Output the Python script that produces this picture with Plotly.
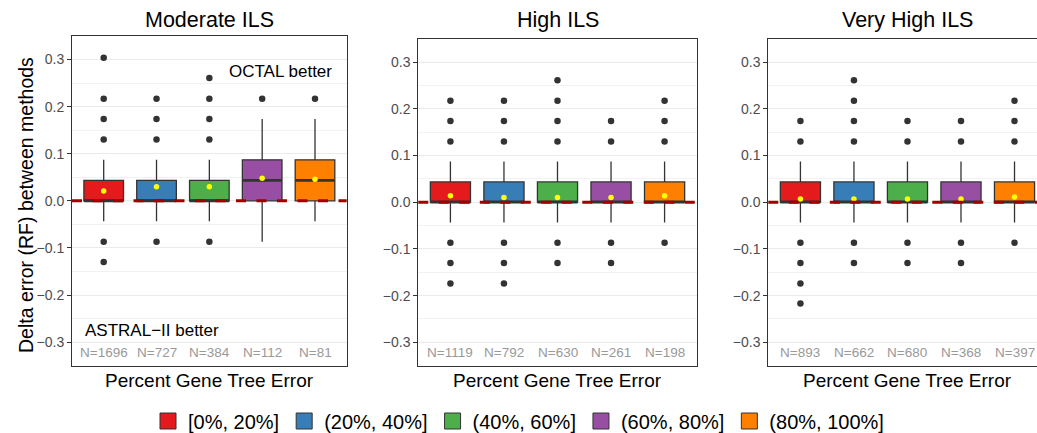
import plotly.graph_objects as go

# ---------------- data ----------------
categories = ["[0%, 20%]", "(20%, 40%]", "(40%, 60%]", "(60%, 80%]", "(80%, 100%]"]
colors = ["#E41A1C", "#377EB8", "#4DAF4A", "#984EA3", "#FF7F00"]
panels = ["Moderate ILS", "High ILS", "Very High ILS"]

# Moderate ILS
mod_q1 = [0.0, 0.0, 0.0, 0.0, 0.0]
mod_median = [0.0, 0.0, 0.0, 0.0435, 0.0435]
mod_q3 = [0.0435, 0.0435, 0.0435, 0.087, 0.087]
mod_lower = [-0.0435, -0.0435, -0.0435, -0.087, -0.0435]
mod_upper = [0.087, 0.087, 0.087, 0.174, 0.174]
mod_mean = [0.021, 0.030, 0.030, 0.048, 0.046]
mod_outliers = [
    [0.304, 0.217, 0.174, 0.130, -0.087, -0.130],
    [0.217, 0.174, 0.130, -0.087],
    [0.261, 0.217, 0.174, 0.130, -0.087],
    [0.217],
    [0.217],
]
mod_n = [1696, 727, 384, 112, 81]

# High ILS
high_q1 = [0.0, 0.0, 0.0, 0.0, 0.0]
high_median = [0.0, 0.0, 0.0, 0.0, 0.0]
high_q3 = [0.0435, 0.0435, 0.0435, 0.0435, 0.0435]
high_lower = [-0.0435, -0.0435, -0.0435, -0.0435, -0.0435]
high_upper = [0.087, 0.087, 0.087, 0.087, 0.087]
high_mean = [0.014, 0.010, 0.010, 0.010, 0.014]
high_outliers = [
    [0.217, 0.174, 0.130, -0.087, -0.130, -0.174],
    [0.217, 0.174, 0.130, -0.087, -0.130, -0.174],
    [0.261, 0.217, 0.174, 0.130, -0.087, -0.130],
    [0.174, 0.130, -0.087, -0.130],
    [0.217, 0.174, 0.130, -0.087],
]
high_n = [1119, 792, 630, 261, 198]

# Very High ILS
vhigh_q1 = [0.0, 0.0, 0.0, 0.0, 0.0]
vhigh_median = [0.0, 0.0, 0.0, 0.0, 0.0]
vhigh_q3 = [0.0435, 0.0435, 0.0435, 0.0435, 0.0435]
vhigh_lower = [-0.0435, -0.0435, -0.0435, -0.0435, -0.0435]
vhigh_upper = [0.087, 0.087, 0.087, 0.087, 0.087]
vhigh_mean = [0.007, 0.007, 0.007, 0.007, 0.011]
vhigh_outliers = [
    [0.174, 0.130, -0.087, -0.130, -0.174, -0.217],
    [0.261, 0.217, 0.174, 0.130, -0.087, -0.130],
    [0.174, 0.130, -0.087, -0.130],
    [0.174, 0.130, -0.087, -0.130],
    [0.217, 0.174, 0.130, -0.087],
]
vhigh_n = [893, 662, 680, 368, 397]

y_ticks = [-0.3, -0.2, -0.1, 0.0, 0.1, 0.2, 0.3]
y_ticklabels = ["\u22120.3", "\u22120.2", "\u22120.1", "0.0", "0.1", "0.2", "0.3"]

panel_data = [
    (mod_q1, mod_median, mod_q3, mod_lower, mod_upper, mod_mean, mod_outliers, mod_n),
    (high_q1, high_median, high_q3, high_lower, high_upper, high_mean, high_outliers, high_n),
    (vhigh_q1, vhigh_median, vhigh_q3, vhigh_lower, vhigh_upper, vhigh_mean, vhigh_outliers, vhigh_n),
]

# ---------------- layout geometry (pixels) ----------------
W, H = 1037, 433
FONT = "Liberation Sans, Arial, sans-serif"
px_x = [(72, 346.7), (418.3, 696.7), (768.3, 1037)]
px_y = [(36, 365.7), (38.7, 365.7), (38.7, 365.7)]
x_ranges = [[0.4, 5.6], [0.4, 5.6], [0.4, 5.42]]
title_cx = [209.3, 557.5, 907.4]
BOXW = 0.75

fig = go.Figure()
layout = dict(
    width=W, height=H,
    margin=dict(l=0, r=0, t=0, b=0, autoexpand=False),
    paper_bgcolor="white", plot_bgcolor="white",
    font=dict(family=FONT, color="#000000"),
    showlegend=True,
    legend=dict(orientation="h", x=0.5, xanchor="center", y=1 - 421 / H, yanchor="middle",
                xref="container", yref="container",
                font=dict(size=20, family=FONT, color="#000000"), itemclick=False,
                tracegroupgap=0, bgcolor="rgba(0,0,0,0)"),
    annotations=[], shapes=[],
)

for p, (q1, med, q3, lo, up, mn, outl, nn) in enumerate(panel_data):
    sfx = "" if p == 0 else str(p + 1)
    xa, ya = "x" + sfx, "y" + sfx
    xs = list(range(1, len(categories) + 1))
    for i, cat in enumerate(categories):
        fig.add_trace(go.Box(
            x=[xs[i]], q1=[q1[i]], median=[med[i]], q3=[q3[i]],
            lowerfence=[lo[i]], upperfence=[up[i]],
            width=BOXW, whiskerwidth=0, boxpoints=False,
            fillcolor=colors[i], line=dict(color="#333333", width=1.3),
            name=cat, legendgroup=cat, showlegend=False,
            xaxis=xa, yaxis=ya, hoverinfo="skip"))
    # thicker median lines
    mx, my = [], []
    for i in range(len(categories)):
        mx += [xs[i] - BOXW / 2, xs[i] + BOXW / 2, None]
        my += [med[i], med[i], None]
    fig.add_trace(go.Scatter(x=mx, y=my, mode="lines", line=dict(color="#333333", width=2.6),
                             showlegend=False, xaxis=xa, yaxis=ya, hoverinfo="skip"))
    # outliers
    ox, oy = [], []
    for i in range(len(categories)):
        for v in outl[i]:
            ox.append(xs[i]); oy.append(v)
    fig.add_trace(go.Scatter(x=ox, y=oy, mode="markers",
                             marker=dict(color="#333333", size=6.5),
                             showlegend=False, xaxis=xa, yaxis=ya, hoverinfo="skip"))
    # means
    fig.add_trace(go.Scatter(x=xs, y=mn, mode="markers",
                             marker=dict(color="#FFFF00", size=5.5),
                             showlegend=False, xaxis=xa, yaxis=ya, hoverinfo="skip"))

    x0, x1 = px_x[p]
    yt, yb = px_y[p]
    layout["xaxis" + sfx] = dict(
        domain=[x0 / W, x1 / W], range=x_ranges[p], anchor=ya,
        showticklabels=False, ticks="", showgrid=False, zeroline=False,
        showline=True, linecolor="#333333", linewidth=1, mirror=True, fixedrange=True)
    layout["yaxis" + sfx] = dict(
        domain=[1 - yb / H, 1 - yt / H], range=[-0.35, 0.35], anchor=xa,
        tickvals=y_ticks, ticktext=y_ticklabels, ticks="outside", ticklen=4,
        tickcolor="#333333", tickwidth=1,
        tickfont=dict(size=14, color="#4D4D4D", family=FONT),
        showgrid=True, gridcolor="#EBEBEB", gridwidth=1.1,
        minor=dict(dtick=0.05, tick0=0.05, showgrid=True, gridcolor="#F2F2F2", gridwidth=1, ticks=""),
        zeroline=False, showline=True, linecolor="#333333", linewidth=1,
        mirror=(p < 2), fixedrange=True)

    # reference dashed line at zero
    layout["shapes"].append(dict(
        type="line", xref=xa + " domain", yref=ya, x0=0, x1=1, y0=0, y1=0,
        line=dict(color="#A00000", width=3, dash="10px,10.5px"), layer="above"))

    # N labels
    for i in range(len(categories)):
        layout["annotations"].append(dict(
            x=xs[i], y=-0.321, xref=xa, yref=ya, text="N=%d" % nn[i], showarrow=False,
            font=dict(size=13.5, color="#999999", family=FONT), xanchor="center", yanchor="middle"))

    # panel title
    layout["annotations"].append(dict(
        x=title_cx[p] / W, y=1 - 20.5 / H, xref="paper", yref="paper", text=panels[p], showarrow=False,
        font=dict(size=21.5, color="#000000", family=FONT), xanchor="center", yanchor="middle"))
    # x title
    layout["annotations"].append(dict(
        x=title_cx[p] / W, y=1 - 380.5 / H, xref="paper", yref="paper",
        text="Percent Gene Tree Error", showarrow=False,
        font=dict(size=19, color="#000000", family=FONT), xanchor="center", yanchor="middle"))

# y-axis title
layout["annotations"].append(dict(
    x=26 / W, y=1 - 205 / H, xref="paper", yref="paper", text="Delta error (RF) between methods",
    textangle=-90, showarrow=False, font=dict(size=19.5, color="#000000", family=FONT),
    xanchor="center", yanchor="middle"))
# region labels
layout["annotations"].append(dict(
    x=5.365, y=0.275, xref="x", yref="y", text="OCTAL better", showarrow=False,
    font=dict(size=17, color="#000000", family=FONT), xanchor="right", yanchor="middle"))
layout["annotations"].append(dict(
    x=0.6, y=-0.275, xref="x", yref="y", text="ASTRAL\u2212II better", showarrow=False,
    font=dict(size=17, color="#000000", family=FONT), xanchor="left", yanchor="middle"))

# legend entries
for i, cat in enumerate(categories):
    fig.add_trace(go.Scatter(
        x=[None], y=[None], mode="markers", name=cat, legendgroup=cat,
        marker=dict(symbol="square", size=16, color=colors[i], line=dict(color="#333333", width=1)),
        showlegend=True, xaxis="x", yaxis="y", hoverinfo="skip"))

fig.update_layout(**layout)
fig.write_html("out.html", config={"displayModeBar": False})
